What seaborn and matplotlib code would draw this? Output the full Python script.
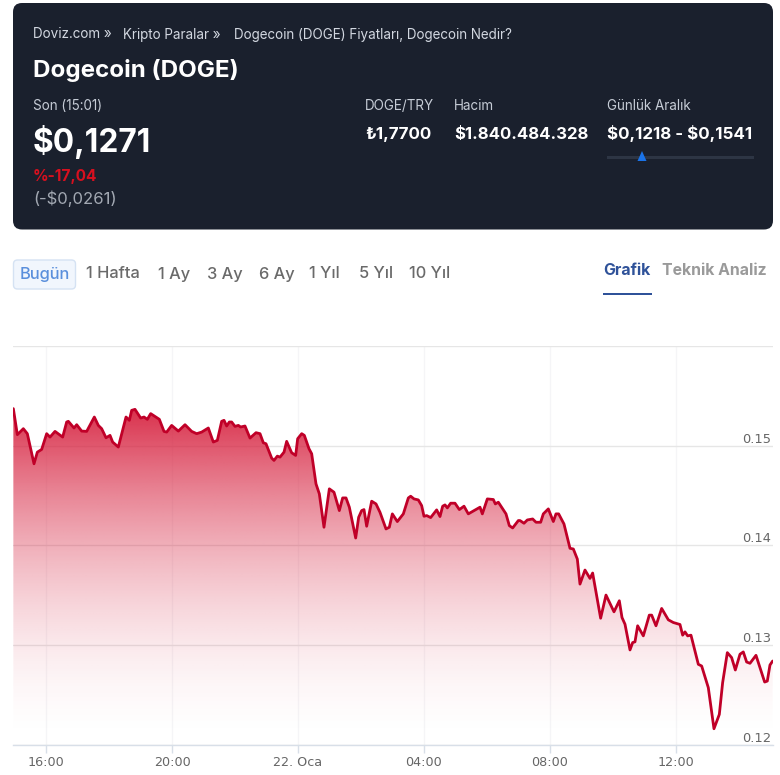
import numpy as np
import pandas as pd
import matplotlib
matplotlib.use("Agg")
import matplotlib.pyplot as plt
from matplotlib.patches import FancyBboxPatch, Polygon, Rectangle
import seaborn as sns

# hours since 16:00 on the previous day
hours = [-1.037,-.910,-.720,-.593,-.487,-.381,-.275,-.138,.021,.127,.286,.529,.656,.709,.889,.974,1.132,1.291,1.534,1.661,1.767,1.905,2.032,2.116,2.296,2.540,2.646,2.720,2.825,3.005,3.111,3.217,3.323,3.598,3.746,3.831,3.989,4.201,4.413,4.624,4.783,4.942,5.153,5.312,5.439,5.577,5.651,5.735,5.820,5.894,6.0,6.106,6.180,6.317,6.476,6.667,
6.794,6.899,6.984,7.164,7.238,7.344,7.429,7.556,7.640,7.799,7.926,7.989,8.117,8.201,8.349,8.434,8.571,8.677,8.825,8.995,9.143,9.312,9.418,9.524,9.630,9.831,9.926,10.021,10.095,10.180,10.339,10.476,10.603,10.794,10.899,10.995,11.153,11.344,11.503,11.577,11.683,11.820,11.926,12.0,12.085,12.212,12.402,12.508,12.593,12.667,12.741,12.847,12.984,13.122,13.270,13.407,13.778,13.852,14.011,14.201,14.265,14.360,14.603,14.709,14.815,14.995,
15.048,15.175,15.280,15.450,15.556,15.704,15.788,15.947,16.106,16.190,16.275,16.444,16.635,16.741,16.868,16.952,17.111,17.270,17.354,17.608,17.778,18.032,18.201,18.286,18.381,18.540,18.625,18.698,18.783,18.963,19.153,19.228,19.365,19.545,19.757,19.915,20.127,20.212,20.286,20.370,20.476,20.709,20.815,21.026,21.206,21.376,21.481,21.630,21.767,21.884,22.032,22.137,22.243,22.349,22.540,22.815,22.899,22.984,23.069]
price = [.15372,.15111,.15171,.15121,.14970,.14819,.14936,.14963,.15121,.15087,.15144,.15087,.15238,.15245,.15178,.15211,.15147,.15144,.15288,.15204,.15171,.15080,.15104,.15037,.14987,.15288,.15255,.15355,.15365,.15278,.15288,.15265,.15322,.15265,.15144,.15137,.15204,.15147,.15211,.15144,.15121,.15137,.15178,.15037,.15054,.15245,.15255,.15198,.15238,.15238,.15194,.15204,.15188,.15198,.15077,.15131,
.15121,.15030,.15020,.14876,.14853,.14896,.14886,.14936,.15044,.14930,.14903,.15070,.15121,.15104,.14970,.14920,.14618,.14518,.14183,.14568,.14534,.14350,.14477,.14477,.14384,.14075,.14283,.14350,.14360,.14193,.14444,.14417,.14333,.14166,.14183,.14317,.14240,.14317,.14477,.14494,.14467,.14457,.14400,.14293,.14300,.14280,.14357,.14290,.14394,.14407,.14377,.14424,.14424,.14360,.14394,.14317,.14384,.14317,.14467,.14461,.14417,.14434,.14317,.14199,.14176,.14250,
.14250,.14223,.14256,.14266,.14233,.14233,.14317,.14367,.14240,.14317,.14317,.14216,.13972,.13965,.13864,.13613,.13754,.13670,.13724,.13271,.13503,.13335,.13446,.13278,.13211,.12953,.13027,.13034,.13195,.13094,.13302,.13302,.13195,.13369,.13255,.13228,.13208,.13101,.13134,.13094,.13101,.12809,.12792,.12575,.12163,.12307,.12625,.12926,.12876,.12752,.12910,.12933,.12832,.12819,.12899,.12631,.12641,.12802,.12842]
x_ticks = [0, 4, 8, 12, 16, 20]
x_labels = ["16:00", "20:00", "22. Oca", "04:00", "08:00", "12:00"]
y_ticks = [0.12, 0.13, 0.14, 0.15, 0.16]
y_labels = ["0.12", "0.13", "0.14", "0.15", ""]

breadcrumbs = ["Doviz.com »", "Kripto Paralar »", "Dogecoin (DOGE) Fiyatları, Dogecoin Nedir?"]
ranges = ["Bugün", "1 Hafta", "1 Ay", "3 Ay", "6 Ay", "1 Yıl", "5 Yıl", "10 Yıl"]

df = pd.DataFrame({"hours": hours, "price": price})

sns.set_theme(style="white")
plt.rcParams["font.family"] = ["Inter", "DejaVu Sans"]

W, H = 780, 775
fig = plt.figure(figsize=(W / 100, H / 100), dpi=100, facecolor="white")

# ---------- chart ----------
ax = fig.add_axes([13 / W, 1 - 745 / H, 760 / W, 399 / H])
ax.set_xlim(-1.048, 23.08)
ax.set_ylim(0.12, 0.16)

line_color = "#c00028"
grad = np.zeros((256, 2, 4))
grad[..., 0] = 214 / 255
grad[..., 1] = 30 / 255
grad[..., 2] = 60 / 255
grad[..., 3] = np.linspace(0.0, 1.0, 256)[:, None] ** 1.8 * 0.92
# gradient spans from the bottom of the axes up to the highest price
im = ax.imshow(grad, extent=[-1.048, 23.08, 0.12, max(price)], origin="lower",
               aspect="auto", zorder=2, interpolation="bilinear")
poly = Polygon(list(zip(hours, price)) + [(hours[-1], 0.12), (hours[0], 0.12)],
               closed=True, transform=ax.transData, facecolor="none", edgecolor="none")
ax.add_patch(poly)
im.set_clip_path(poly)
ax.set_xlim(-1.048, 23.08)
ax.set_ylim(0.12, 0.16)

sns.lineplot(data=df, x="hours", y="price", ax=ax, color=line_color, linewidth=2.0,
             sort=False, estimator=None, zorder=3, solid_joinstyle="round")

ax.set_xlabel("")
ax.set_ylabel("")
ax.set_xticks(x_ticks)
ax.set_xticklabels(x_labels)
ax.yaxis.tick_right()
ax.set_yticks(y_ticks)
ax.set_yticklabels(y_labels)
ax.grid(axis="y", color="#e6e6e6", linewidth=1, zorder=1)
ax.grid(axis="x", color="#f5f5f7", linewidth=1, zorder=1)
ax.set_axisbelow(True)
for s in ["top", "left", "right"]:
    ax.spines[s].set_visible(False)
ax.spines["bottom"].set_color("#d8dfe8")
ax.spines["bottom"].set_linewidth(1)
ax.tick_params(axis="x", length=6, width=1, color="#d8dfe8", labelsize=9.4,
               labelcolor="#666666", pad=2, bottom=True)
ax.tick_params(axis="y", length=0, right=False, labelsize=9.4, labelcolor="#666666", pad=-1)
for t in ax.get_yticklabels():
    t.set_ha("right")
    t.set_va("bottom")
    t.set_fontname("DejaVu Sans")
    t.set_fontsize(9.4)
for t in ax.get_xticklabels():
    t.set_fontname("DejaVu Sans")
    t.set_fontsize(9.2)

# ---------- page furniture in pixel coordinates ----------
ov = fig.add_axes([0, 0, 1, 1], facecolor="none", zorder=5)
ov.set_xlim(0, W)
ov.set_ylim(H, 0)
ov.axis("off")

ov.add_patch(FancyBboxPatch((13, 3), 760, 226.5, boxstyle="round,pad=0,rounding_size=9",
                            facecolor="#1a202d", edgecolor="none", mutation_aspect=1))


def label(x, y, s, size, color, weight="normal", va="center"):
    ov.text(x, y, s.replace("$", r"\$"), fontsize=size, color=color, fontweight=weight,
            ha="left", va=va)


soft = "#c6ccd6"
for x, s in zip([33, 123, 234], breadcrumbs):
    label(x, 38.5, s, 9.7, "#d2d7e0", va="baseline")
label(33, 71, "Dogecoin (DOGE)", 17.4, "white", "bold")
label(33, 110.5, "Son (15:01)", 9.7, soft, va="baseline")
label(33, 142, "$0,1271", 22.8, "white", "bold")
label(33, 177, "%-17,04", 11.1, "#d6101f", "bold")
label(33, 199, "(-$0,0261)", 12, "#a2a8b2")
label(365, 110.5, "DOGE/TRY", 9.7, soft, va="baseline")
label(365, 139, "₺1,7700", 12.2, "white", "bold", va="baseline")
label(454, 110.5, "Hacim", 9.7, soft, va="baseline")
label(454, 139, "$1.840.484.328", 12.0, "white", "bold", va="baseline")
label(607, 110.5, "Günlük Aralık", 9.7, soft, va="baseline")
label(607, 139, "$0,1218 - $0,1541", 12.2, "white", "bold", va="baseline")
ov.add_patch(Rectangle((607, 155.5), 147, 3, facecolor="#2d3544", edgecolor="none"))
ov.add_patch(Polygon([(642, 151), (637.5, 161), (646.5, 161)], closed=True,
                     facecolor="#1a73e8", edgecolor="none"))

ov.add_patch(FancyBboxPatch((13.5, 260), 62, 29, boxstyle="round,pad=0,rounding_size=4",
                            facecolor="#f1f6fd", edgecolor="#d5e2f3", linewidth=1))
for x, s in zip([20, 86, 158, 207, 259, 309, 359, 409], ranges):
    label(x, 278.5, s, 11.8, "#5a8fdc" if s == "Bugün" else "#6a6a6a", "medium", va="baseline")
label(603, 275, "Grafik", 11.4, "#2f5299", "bold", va="baseline")
label(662, 275, "Teknik Analiz", 11.4, "#9a9a9a", "bold", va="baseline")
ov.add_patch(Rectangle((603, 292.5), 49, 2, facecolor="#2f5299", edgecolor="none"))

fig.savefig("out.png", dpi=100, facecolor="white")
